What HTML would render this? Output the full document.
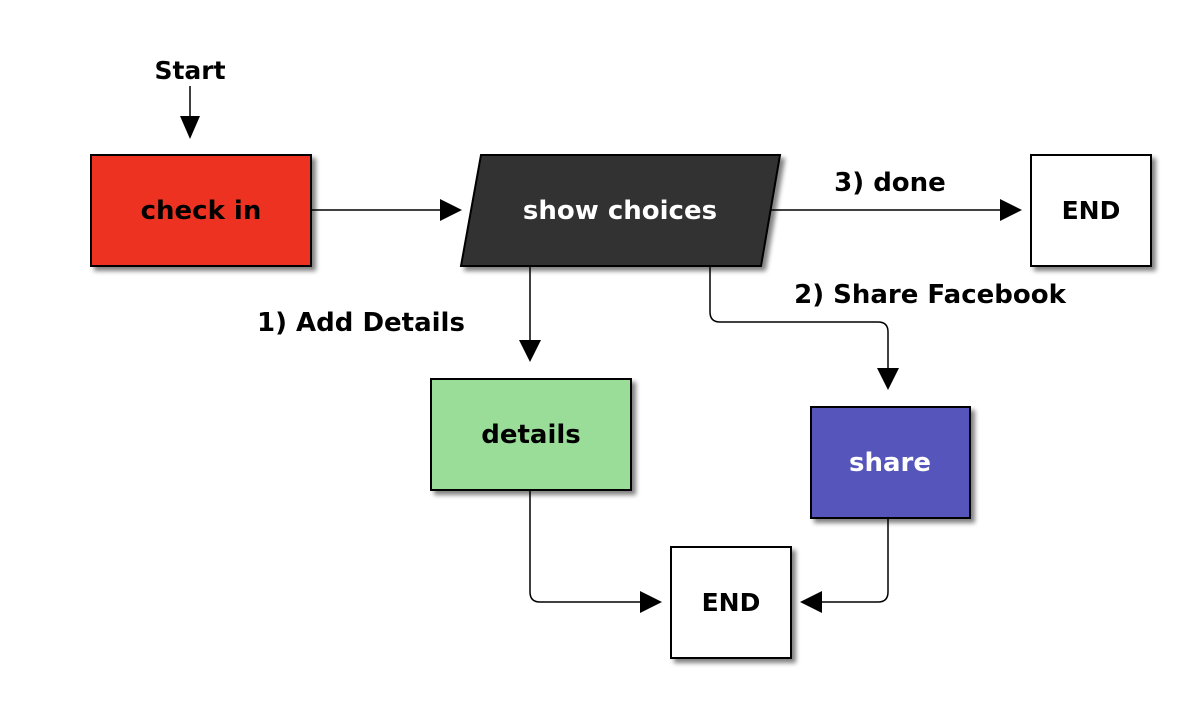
<!DOCTYPE html>
<html><head><style>body{margin:0;background:#fff}svg{display:block}text{font-family:"DejaVu Sans","Liberation Sans",sans-serif;font-weight:bold}</style></head>
<body>
<svg width="1200" height="728" viewBox="0 0 1200 728">
<defs>
<filter id="sh" x="-10%" y="-10%" width="130%" height="130%"><feGaussianBlur in="SourceAlpha" stdDeviation="2.5"/><feOffset dx="4" dy="4"/><feComponentTransfer><feFuncA type="linear" slope="0.5"/></feComponentTransfer><feMerge><feMergeNode/><feMergeNode in="SourceGraphic"/></feMerge></filter>
</defs>
<g stroke="#000" stroke-width="2" fill="#000">
<rect x="91" y="155" width="220" height="111" fill="#ee3224" filter="url(#sh)"/>
<polygon points="481,155 780,155 761,266 461,266" fill="#333" filter="url(#sh)"/>
<rect x="1031" y="155" width="120" height="111" fill="#fff" filter="url(#sh)"/>
<rect x="431" y="379" width="200" height="111" fill="#99dd99" filter="url(#sh)"/>
<rect x="811" y="407" width="159" height="111" fill="#5555bb" filter="url(#sh)"/>
<rect x="671" y="547" width="120" height="111" fill="#fff" filter="url(#sh)"/>
</g>
<g stroke="#000" stroke-width="1.5" fill="none">
<path d="M190 86V116"/>
<path d="M311 210H440"/>
<path d="M771 210H1000"/>
<path d="M530 266V340"/>
<path d="M710 266V312Q710 322 720 322H878Q888 322 888 332V368"/>
<path d="M530 490V592Q530 602 540 602H640"/>
<path d="M888 518V592Q888 602 878 602H822"/>
</g>
<g fill="#000">
<polygon points="180,116 200,116 190,139"/>
<polygon points="440,199 440,221 462,210"/>
<polygon points="1000,199 1000,221 1022,210"/>
<polygon points="519,340 541,340 530,362"/>
<polygon points="877,368 899,368 888,390"/>
<polygon points="640,591 640,613 662,602"/>
<polygon points="822,591 822,613 800,602"/>
</g>
<g font-size="26" text-anchor="middle">
<text x="201" y="219" fill="#000">check in</text>
<text x="620" y="219" fill="#fff">show choices</text>
<text x="1091" y="219" fill="#000" font-size="25">END</text>
<text x="531" y="443" fill="#000">details</text>
<text x="890" y="471" fill="#fff">share</text>
<text x="731" y="611" fill="#000" font-size="25">END</text>
<text x="190" y="79" fill="#000" font-size="25">Start</text>
<text x="890" y="191" fill="#000">3) done</text>
<text x="930" y="303" fill="#000">2) Share Facebook</text>
<text x="361" y="331" fill="#000">1) Add Details</text>
</g>
</svg>
</body></html>
